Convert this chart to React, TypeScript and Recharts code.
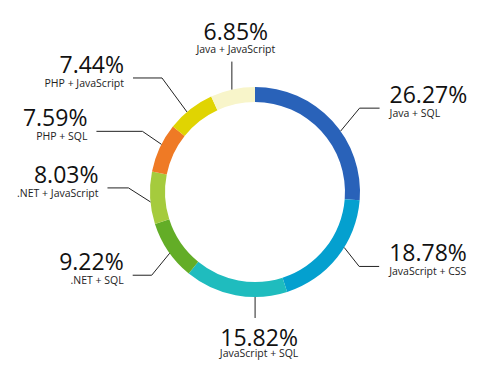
import React from "react";
import { PieChart, Pie, Cell } from "recharts";

const categories = [
  "Java + SQL",
  "JavaScript + CSS",
  "JavaScript + SQL",
  ".NET + SQL",
  ".NET + JavaScript",
  "PHP + SQL",
  "PHP + JavaScript",
  "Java + JavaScript",
];
const shares = [26.27, 18.78, 15.82, 9.22, 8.03, 7.59, 7.44, 6.85];
const colors = [
  "#2962b9",
  "#04a0cf",
  "#1fbcbe",
  "#63ad27",
  "#a5cb3d",
  "#ef7a25",
  "#e0d402",
  "#f8f5ca",
];

// label layout: angle shift (deg) of the line start, elbow offset, horizontal leg
type LabelLayout = { shift: number; dx: number; dy: number; leg: number; vertical?: boolean };
const labelLayout: LabelLayout[] = [
  { shift: 7.3, dx: 19, dy: -23, leg: 20 },
  { shift: -6.5, dx: 15, dy: 19, leg: 20 },
  { shift: -10.7, dx: 0, dy: 21, leg: 0, vertical: true },
  { shift: -1.4, dx: -18, dy: 22, leg: 19 },
  { shift: -2.2, dx: -22, dy: -14, leg: 21 },
  { shift: 2.1, dx: -19, dy: -13, leg: 46 },
  { shift: -2.3, dx: -25, dy: -34, leg: 29 },
  { shift: -0.4, dx: 0, dy: -28, leg: 0, vertical: true },
];

const data = categories.map((name, i) => ({ name, value: shares[i] }));

const FONT = "'Open Sans', sans-serif";

const renderLabel = (props: any) => {
  const { cx, cy, midAngle, outerRadius, index } = props;
  const lay = labelLayout[index];
  const theta = ((90 - midAngle + lay.shift) * Math.PI) / 180;
  const x0 = cx + outerRadius * Math.sin(theta);
  const y0 = cy - outerRadius * Math.cos(theta);
  const x1 = x0 + lay.dx;
  const y1 = y0 + lay.dy;
  const pct = shares[index].toFixed(2) + "%";
  const name = categories[index];
  if (lay.vertical) {
    const up = lay.dy < 0;
    const tx = x1 + 4;
    const pctY = up ? y1 - 22 : y1 + 28;
    const nameY = up ? y1 - 9 : y1 + 39;
    return (
      <g key={`lbl-${index}`}>
        <polyline points={`${x0},${y0} ${x1},${y1}`} fill="none" stroke="#222" strokeWidth={1} />
        <text x={tx} y={pctY} textAnchor="middle" fontFamily={FONT} fontSize={23} fill="#111">
          {pct}
        </text>
        <text x={tx} y={nameY} textAnchor="middle" fontFamily={FONT} fontSize={10.5} fill="#222">
          {name}
        </text>
      </g>
    );
  }
  const right = lay.dx > 0;
  const x2 = right ? x1 + lay.leg : x1 - lay.leg;
  const tx = right ? x2 + 10 : x2 - 9;
  const anchor = right ? "start" : "end";
  return (
    <g key={`lbl-${index}`}>
      <polyline
        points={`${x0},${y0} ${x1},${y1} ${x2},${y1}`}
        fill="none"
        stroke="#222"
        strokeWidth={1}
      />
      <text x={tx} y={y1 - 5} textAnchor={anchor} fontFamily={FONT} fontSize={23} fill="#111">
        {pct}
      </text>
      <text x={tx} y={y1 + 9} textAnchor={anchor} fontFamily={FONT} fontSize={10.5} fill="#222">
        {name}
      </text>
    </g>
  );
};

export default function App() {
  return (
    <div style={{ position: "absolute", left: 0, top: 0, width: 489, height: 378, background: "#fff" }}>
      <PieChart width={489} height={378} margin={{ top: 0, right: 0, bottom: 0, left: 0 }}>
        <Pie
          data={data}
          dataKey="value"
          nameKey="name"
          cx={255}
          cy={192}
          innerRadius={90}
          outerRadius={105}
          startAngle={90}
          endAngle={-270}
          stroke="none"
          label={renderLabel}
          labelLine={false}
          isAnimationActive={false}
        >
          {data.map((d, i) => (
            <Cell key={d.name} fill={colors[i]} />
          ))}
        </Pie>
      </PieChart>
    </div>
  );
}
